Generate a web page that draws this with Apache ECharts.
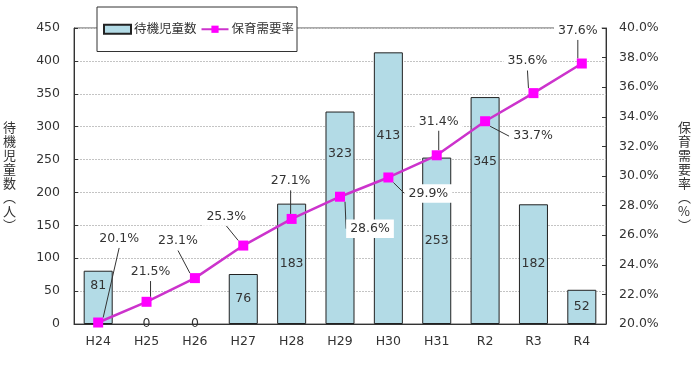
<!DOCTYPE html>
<html>
<head>
<meta charset="utf-8">
<script src="https://cdn.jsdelivr.net/npm/echarts@6/dist/echarts.min.js"></script>
<style>html,body{margin:0;padding:0;background:#fff;}#c{width:700px;height:368px;}</style>
</head>
<body>
<div id="c"></div>
<script>
const categories = ['H24','H25','H26','H27','H28','H29','H30','H31','R2','R3','R4'];
const waitingChildren = [81, 0, 0, 76, 183, 323, 413, 253, 345, 182, 52];
const demandRate = [20.1, 21.5, 23.1, 25.3, 27.1, 28.6, 29.9, 31.4, 33.7, 35.6, 37.6];
const leftTicks = {min: 0, max: 450, interval: 50};
const rightTicks = {min: 20, max: 40, interval: 2};

// label placement styles (pixel offsets), separate from data
const barLabelShift = [-12, 0, 0, 0, 0, -64, -52, 0, -49, 0, 0];
const lineLabelShift = [[21,-84],[4,-30],[-17,-37],[-17,-29],[-1,-38],[30,32],[40,16],[2,-34],[48,15],[-6,-32],[-4,-33]];

const FONT = "'DejaVu Sans','Noto Sans CJK JP',sans-serif";
const TXT = '#333';

const chart = echarts.init(document.getElementById('c'), null, {renderer: 'canvas'});

const barData = waitingChildren.map((v, i) => ({
  value: v,
  label: {offset: [0, barLabelShift[i]]},
  itemStyle: v === 0 ? {borderWidth: 0} : {}
}));

chart.setOption({
  animation: false,
  textStyle: {fontFamily: FONT},
  grid: {left: 74, right: 94, top: 28, bottom: 44, show: true, borderColor: '#555', borderWidth: 1},
  legend: {
    left: 97, top: 7,
    padding: [16, 3, 16, 6],
    backgroundColor: '#fff', borderColor: '#333', borderWidth: 1, borderRadius: 0,
    itemWidth: 27, itemHeight: 9, itemGap: 4,
    textStyle: {fontSize: 12.5, color: TXT, fontFamily: FONT, padding: [0,0,0,-2]},
    data: [{name: '待機児童数', icon: 'rect'}, {name: '保育需要率'}]
  },
  xAxis: {
    type: 'category',
    data: categories,
    axisLine: {lineStyle: {color: '#333', width: 1}},
    axisTick: {inside: true, length: 4, lineStyle: {color: '#333'}},
    axisLabel: {color: TXT, fontSize: 12.5, margin: 11, fontFamily: FONT}
  },
  yAxis: [{
    type: 'value',
    min: leftTicks.min, max: leftTicks.max, interval: leftTicks.interval,
    name: '待\n機\n児\n童\n数\n︵\n人\n︶',
    nameLocation: 'middle', nameRotate: 0, nameGap: 58,
    nameTextStyle: {fontSize: 13, lineHeight: 14, color: TXT, fontFamily: "'Noto Sans CJK JP',sans-serif", padding: [0,0,26,0]},
    axisLine: {show: true, lineStyle: {color: '#333'}},
    axisTick: {show: true, inside: true, length: 4, lineStyle: {color: '#333'}},
    axisLabel: {color: TXT, fontSize: 12.5, margin: 14, fontFamily: FONT},
    splitLine: {show: true, lineStyle: {color: '#c4c4c4', type: [2, 1], width: 1}}
  }, {
    type: 'value',
    position: 'right',
    min: rightTicks.min, max: rightTicks.max, interval: rightTicks.interval,
    name: '保\n育\n需\n要\n率\n︵\n%\n︶',
    nameLocation: 'middle', nameRotate: 0, nameGap: 72,
    nameTextStyle: {fontSize: 13, lineHeight: 14, color: TXT, fontFamily: "'Noto Sans CJK JP',sans-serif", padding: [0,0,28,0]},
    axisLine: {show: true, lineStyle: {color: '#333'}},
    axisTick: {show: true, inside: true, length: 4, lineStyle: {color: '#333'}},
    axisLabel: {color: TXT, fontSize: 12.5, margin: 13, fontFamily: FONT, formatter: v => v.toFixed(1) + '%'},
    splitLine: {show: false}
  }],
  series: [{
    name: '待機児童数',
    type: 'bar',
    data: barData,
    barWidth: '60%',
    itemStyle: {color: '#b3dbe6', borderColor: '#222', borderWidth: 1},
    label: {show: true, position: 'inside', color: TXT, fontSize: 12.5, fontFamily: FONT},
    z: 2
  }, {
    name: '保育需要率',
    type: 'line',
    yAxisIndex: 1,
    data: demandRate,
    symbol: 'rect',
    symbolSize: 10,
    lineStyle: {color: '#cc33cc', width: 2.5},
    itemStyle: {color: '#ff00ff'},
    label: {
      show: true, position: 'top', color: TXT, fontSize: 12.5, fontFamily: FONT,
      backgroundColor: '#fff', padding: [3, 4],
      formatter: p => p.value.toFixed(1) + '%'
    },
    labelLine: {show: true, showAbove: false, lineStyle: {color: '#333', width: 1}},
    labelLayout: function (params) {
      const i = params.dataIndex;
      const r = params.rect, lr = params.labelRect;
      const cx = r.x + r.width / 2 + lineLabelShift[i][0];
      const cy = r.y + r.height / 2 + lineLabelShift[i][1];
      return {
        dx: cx - (lr.x + lr.width / 2),
        dy: cy - (lr.y + lr.height / 2)
      };
    },
    z: 5
  }]
});
</script>
</body>
</html>
